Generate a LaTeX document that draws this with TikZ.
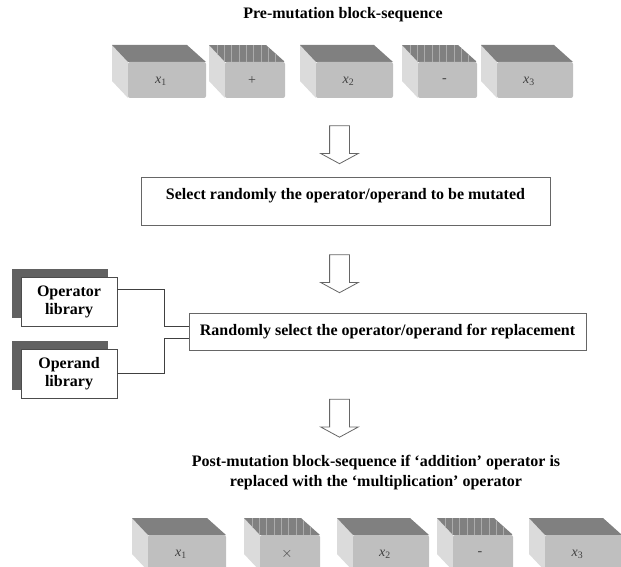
\documentclass[tikz,border=0pt]{standalone}
\usepackage{fontspec}
\setmainfont{Liberation Serif}
\usetikzlibrary{shapes.arrows,shadows}

\tikzset{
  caption/.style={font=\bfseries\fontsize{16}{20}\selectfont, align=center, inner sep=0pt},
  stepbox/.style={draw=black!60, line width=1pt, fill=white, font=\bfseries\fontsize{16}{20}\selectfont, inner sep=0pt},
  libbox/.style={draw=black!70, line width=0.8pt, fill=white, minimum width=96pt, minimum height=49pt,
    font=\bfseries\fontsize{16}{18}\selectfont, align=center, inner sep=0pt,
    drop shadow={shadow xshift=-9pt, shadow yshift=8pt, fill=black!62, opacity=1}},
  downarrow/.style={single arrow, draw=black!60, line width=0.8pt, fill=white, shape border rotate=270,
    minimum height=38pt, single arrow head extend=9pt, single arrow tip angle=123,
    inner xsep=9.5pt, inner ysep=9.5pt},
  link/.style={draw=black!75, line width=0.8pt},
  frontface/.style={fill=black!25, rounded corners=2pt},
  topface/.style={fill=black!50},
  sideface/.style={fill=black!14},
  stripe/.style={draw=black!33, line width=0.5pt},
  blocklabel/.style={font=\fontsize{14}{14}\selectfont, text=black!75, inner sep=0pt}
}

\begin{document}
\begin{tikzpicture}[x=1pt, y=-1pt]
  \useasboundingbox (0,0) rectangle (621,567);

  % operand blocks
  \foreach \lx/\rx/\ty/\n [count=\i] in {128/206/62/1, 316/393/62/2, 497/573/62/3,
                                         148/226/535/1, 353/429/535/2, 545/622/535/3} {
    \fill[sideface] (\lx,\ty) -- (\lx-16,\ty-17) -- (\lx-16,\ty+19) -- (\lx,\ty+36) -- cycle;
    \fill[topface] (\lx,\ty) -- (\lx-16,\ty-17) -- (\rx-19,\ty-17) -- (\rx,\ty) -- cycle;
    \fill[frontface] (\lx,\ty) rectangle (\rx,\ty+36);
    \node[blocklabel] (opd\i) at ({(\lx+\rx)/2-6},\ty+19) {\itshape x\textsubscript{\upshape\n}};
  }

  % operator blocks, striped top
  \foreach \lx/\rx/\ty/\s [count=\i] in {225/285/62/+, 418/477/62/-, 260/320/535/{$\times$}, 453/513/535/-} {
    \fill[sideface] (\lx,\ty) -- (\lx-16,\ty-17) -- (\lx-16,\ty+19) -- (\lx,\ty+36) -- cycle;
    \begin{scope}
      \clip (\lx,\ty) -- (\lx-16,\ty-17) -- (\rx-19,\ty-17) -- (\rx,\ty) -- cycle;
      \fill[topface] (\lx-16,\ty-17) rectangle (\rx,\ty);
      \foreach \k in {0,...,8}
        \draw[stripe] (\lx-8+\k*7.3,\ty-17) -- ++(0,17);
    \end{scope}
    \fill[frontface] (\lx,\ty) rectangle (\rx,\ty+36);
    \node[blocklabel] (opr\i) at ({(\lx+\rx)/2-3},\ty+19) {\s};
  }

  \node[caption] (pre) at (343,15) {Pre-mutation block-sequence};

  \node[downarrow] (arrA) at (339.5,142) {};
  \node[stepbox, minimum width=409pt, minimum height=48pt, text height=11pt, text depth=14pt] (sel) at (345.5,201)
    {Select randomly the operator/operand to be mutated};

  \node[downarrow] (arrB) at (339.5,271) {};
  \node[stepbox, minimum width=397pt, minimum height=37pt] (rep) at (387.5,331.5)
    {Randomly select the operator/operand for replacement};

  \node[libbox] (oprlib) at (69,301.5) {Operator\\library};
  \node[libbox] (opdlib) at (69,373.5) {Operand\\library};

  \draw[link] ([yshift=12.5pt]oprlib.east) -- ++(47,0) |- ([yshift=5.5pt]rep.west);
  \draw[link] (opdlib.east) -- ++(47,0) |- ([yshift=-6.5pt]rep.west);

  \node[downarrow] (arrC) at (339.5,415.5) {};
  \node[caption] (post) at (376,473) {Post-mutation block-sequence if ‘addition’ operator is\\
    replaced with the ‘multiplication’ operator};
\end{tikzpicture}
\end{document}
